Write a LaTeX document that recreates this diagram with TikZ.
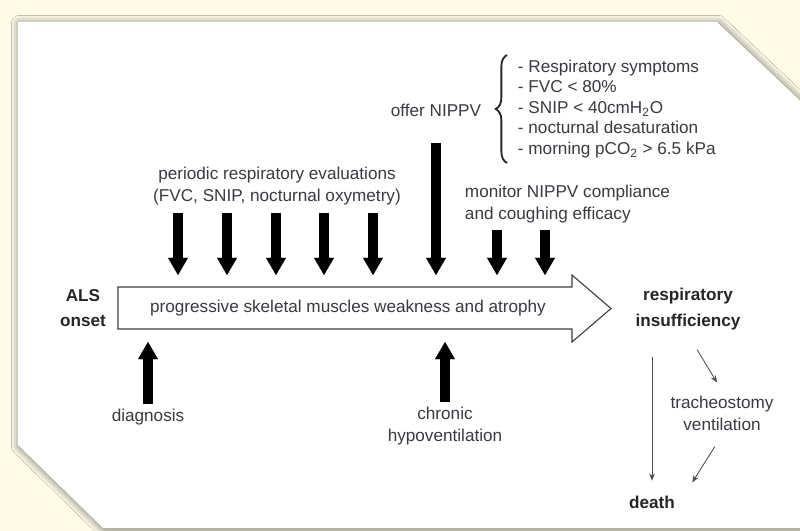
\documentclass[tikz,border=0pt]{standalone}
\usepackage{fontspec}
\setmainfont{Liberation Sans}
\usepackage{xcolor}
\usetikzlibrary{arrows.meta,positioning,calc,decorations.pathreplacing,shadows.blur}

\definecolor{cream}{RGB}{255,251,232}
\definecolor{ink}{RGB}{58,58,66}

\begin{document}
\begin{tikzpicture}[x=0.025cm,y=-0.025cm,
    every node/.style={text=ink, font=\fontsize{12.2}{15.5}\selectfont, align=center},
    heading/.style={font=\fontsize{12.2}{18}\selectfont\bfseries, text=black!85},
    fatarrow/.style={line width=2.5mm, fill opacity=1, -{Triangle[width=5mm,length=4.3mm,line width=0.1pt,fill=black]}},
    thinarrow/.style={draw=black!70, line width=0.6pt, -{Stealth[length=1.8mm,width=1.4mm]}}]
      % page and panel
      \useasboundingbox (0,0) rectangle (800,531);
      \clip (0,0) rectangle (800,531);
      \fill[cream] (0,0) rectangle (800,531);
      \begin{scope}
        \fill[white, blur shadow={shadow blur radius=2mm, shadow xshift=1pt, shadow yshift=-1pt, shadow opacity=60}]
          (18,22) -- (717,22) -- (810,110) -- (810,528) -- (103,528) -- (18,445) -- cycle;
      \end{scope}

      % time line
      \draw[draw=black!75, line width=0.8pt, fill=white] (118,287) -- (572,287) -- (572,275) -- (611,308.5)
        -- (572,342) -- (572,329) -- (118,329) -- cycle;
      \node (prog) at (348,308) {progressive skeletal muscles weakness and atrophy};
      \node[heading] (onset) at (83,308) {ALS\\onset};
      \node[heading] (insuff) at (688,309) {respiratory\\insufficiency};

      % evaluations
      \node (evals) at (277,186) {periodic respiratory evaluations\\(FVC, SNIP, nocturnal oxymetry)};
      \foreach \x [count=\i] in {178,227,276,324,373} {
        \coordinate (ev\i) at (\x,213);
        \coordinate (evtip\i) at (\x,275);
        \draw[fatarrow] (ev\i) -- (evtip\i);
      }

      % NIPPV
      \node (offer) at (436,110) {offer NIPPV};
      \node[anchor=west, align=left, font=\fontsize{12.2}{14.6}\selectfont] (crit) at (513,109)
        {- Respiratory symptoms\\- FVC < 80\%\\- SNIP < 40cmH\textsubscript{2}O\\- nocturnal desaturation\\- morning pCO\textsubscript{2} > 6.5 kPa};
      \draw[black!85, line width=1.3pt, decorate, decoration={brace, amplitude=8pt}]
        ([xshift=-1.5mm]crit.south west) -- ([xshift=-1.5mm]crit.north west);
      \coordinate (nippv) at (436,143);
      \coordinate (nippvtip) at (436,275);
      \draw[fatarrow] (nippv) -- (nippvtip);

      \node[anchor=west, align=left] (monitor) at (460,204) {monitor NIPPV compliance\\and coughing efficacy};
      \foreach \x [count=\i] in {497,545} {
        \coordinate (mon\i) at (\x,230);
        \coordinate (montip\i) at (\x,275);
        \draw[fatarrow] (mon\i) -- (montip\i);
      }

      % from below
      \node (diag) at (148,417) {diagnosis};
      \coordinate (diagtip) at (148,342);
      \draw[fatarrow] (diag.north) -- (diagtip);
      \node (chronic) at (445,426) {chronic\\hypoventilation};
      \coordinate (chrontip) at (445,342);
      \draw[fatarrow] (chronic.north) -- (chrontip);

      % outcome
      \node[heading] (death) at (652,502) {death};
      \node (trach) at (722,413) {tracheostomy\\ventilation};
      \draw[thinarrow, shorten <=5.5mm, shorten >=2.5mm] (death.north |- insuff.south) -- (death.north);
      \draw[thinarrow, shorten <=4.4mm, shorten >=2.4mm] (insuff.south) -- (trach.north);
      \draw[thinarrow, shorten <=3.4mm, shorten >=5.8mm] (trach.south) -- (death.east);
\end{tikzpicture}
\end{document}
